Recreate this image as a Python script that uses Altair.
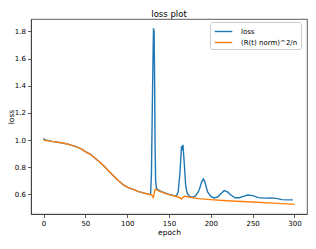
import altair as alt
import pandas as pd

# Orange series: (R(t) norm)^2/n
r_epoch = [0, 10, 23, 30, 38, 45, 50, 56, 61, 67, 73, 79, 85, 90, 96, 102, 108, 113, 119,
           125, 129, 130, 131, 132, 133, 134, 137, 142, 150, 158, 163, 165, 167, 169, 175,
           185, 200, 215, 230, 250, 275, 300]
r_value = [1.000, 0.990, 0.978, 0.968, 0.953, 0.935, 0.915, 0.895, 0.870, 0.838, 0.803,
           0.765, 0.728, 0.698, 0.667, 0.648, 0.634, 0.622, 0.611, 0.602, 0.596, 0.590,
           0.577, 0.600, 0.630, 0.638, 0.628, 0.615, 0.598, 0.586, 0.575, 0.566, 0.580,
           0.586, 0.578, 0.568, 0.561, 0.555, 0.549, 0.543, 0.535, 0.526]

# Blue series: loss
loss_epoch = [0, 1, 10, 23, 30, 38, 45, 50, 56, 61, 67, 73, 79, 85, 90, 96, 102, 108, 113,
              119, 125, 127, 128, 129, 130, 131, 131.5, 132.2, 132.8, 133.3, 134, 135, 137,
              142, 150, 156, 159, 161, 163, 165, 165.8, 166.7, 168, 170, 172, 175, 178, 182,
              186, 189, 191, 193, 196, 200, 204, 208, 212, 216, 220, 224, 229, 234, 239,
              244, 250, 257, 265, 273, 280, 285, 292, 298]
loss_value = [1.012, 1.003, 0.990, 0.978, 0.968, 0.953, 0.935, 0.915, 0.895, 0.870, 0.838,
              0.803, 0.765, 0.728, 0.698, 0.667, 0.648, 0.634, 0.622, 0.611, 0.602, 0.598,
              0.600, 0.750, 1.210, 1.650, 1.823, 1.800, 1.450, 1.000, 0.700, 0.645, 0.632,
              0.617, 0.600, 0.590, 0.590, 0.620, 0.750, 0.955, 0.940, 0.965, 0.850, 0.660,
              0.605, 0.582, 0.578, 0.590, 0.630, 0.690, 0.713, 0.690, 0.620, 0.585, 0.573,
              0.580, 0.605, 0.627, 0.618, 0.595, 0.575, 0.575, 0.585, 0.595, 0.590, 0.576,
              0.572, 0.574, 0.568, 0.561, 0.559, 0.559]

series_names = ["loss", "(R(t) norm)^2/n"]
series_colors = ["#1f77b4", "#ff7f0e"]

df_loss = pd.DataFrame({"epoch": loss_epoch, "value": loss_value, "series": series_names[0]})
df_r = pd.DataFrame({"epoch": r_epoch, "value": r_value, "series": series_names[1]})

color = alt.Color(
    "series:N",
    scale=alt.Scale(domain=series_names, range=series_colors),
    legend=alt.Legend(
        title=None, orient="none", legendX=179, legendY=3,
        symbolType="M-1.6,0L1.6,0", symbolStrokeWidth=1.4, symbolSize=120,
        symbolOffset=4,
        labelFontSize=7, labelFont="DejaVu Sans", labelColor="black",
        strokeColor="#cccccc", fillColor="white", padding=3, cornerRadius=2,
        rowPadding=1, labelOffset=11, labelLimit=200,
    ),
)

x = alt.X("epoch:Q", scale=alt.Scale(domain=[-15, 315], nice=False, zero=False),
          axis=alt.Axis(values=[0, 50, 100, 150, 200, 250, 300], title="epoch"))
y = alt.Y("value:Q", scale=alt.Scale(domain=[0.455, 1.892], nice=False, zero=False),
          axis=alt.Axis(values=[0.6, 0.8, 1.0, 1.2, 1.4, 1.6, 1.8], format=".1f", title="loss",
                        titleX=-18, titleBaseline="alphabetic"))

line_loss = alt.Chart(df_loss).mark_line(strokeWidth=1.4).encode(x=x, y=y, color=color)
line_r = alt.Chart(df_r).mark_line(strokeWidth=1.4).encode(x=x, y=y, color=color)

chart = alt.layer(line_loss, line_r).properties(
    width=276, height=195,
    title=alt.TitleParams("loss plot", fontSize=8.5, font="DejaVu Sans", fontWeight="normal",
                          color="black", offset=1),
    autosize=alt.AutoSizeParams(type="none"),
    padding={"left": 23, "top": 11, "right": 1, "bottom": 26},
).configure_view(
    stroke="#333333", strokeWidth=0.8
).configure_axis(
    grid=False, domainColor="#333333", domainWidth=0.8, tickColor="#333333", tickSize=3.5,
    tickWidth=0.8, labelFontSize=7, labelFont="DejaVu Sans", labelColor="black",
    titleFontSize=7.5, titleFont="DejaVu Sans", titleFontWeight="normal", titleColor="black",
    labelPadding=2,
).configure_axisX(
    titlePadding=2,
)

chart.save("out.html", embed_options={"renderer": "svg", "actions": False})
